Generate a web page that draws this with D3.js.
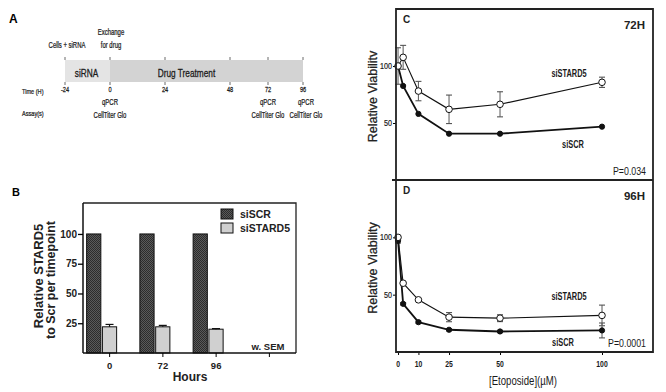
<!DOCTYPE html>
<html><head><meta charset="utf-8">
<script src="https://cdn.jsdelivr.net/npm/d3@7"></script>
<style>body{margin:0;background:#fff}svg{display:block}</style>
</head><body>
<svg id="chart" width="666" height="392"></svg>
<script>
// ---------- Panel A: timeline ----------
const timeTicks = [-24, 0, 24, 48, 72, 96];
const phaseNames = ["siRNA", "Drug Treatment"];
const phaseStart = [-24, 0];
const phaseEnd = [0, 96];
const eventTimes = [-24, 0];
const eventLabels = [["Cells + siRNA"], ["Exchange", "for drug"]];
const assayTimes = [0, 72, 96];
const assayLabels = ["qPCR", "CellTiter Glo"];

// ---------- Panel B: knockdown bars ----------
const hourCats = ["0", "72", "96", ""];
const knockSeries = ["siSCR", "siSTARD5"];
const knockSCR = [100, 100, 100];
const knockSTARD5 = [22, 22, 20];
const knockSTARD5Err = [2, 1.2, 0.5];
const knockYTicks = [25, 50, 75, 100];

// ---------- Panels C/D: viability ----------
const doses = [0, 2.5, 10, 25, 50, 100];
const doseTicks = [0, 10, 25, 50, 100];
const viabTicks = [50, 100];
const c_siSTARD5 = [100, 107.6, 78, 62, 66.4, 85.7];
const c_siSTARD5Err = [16, 10.5, 8.5, 12.5, 11, 4.5];
const c_siSCR = [100, 82.5, 58, 40.6, 40.6, 46.8];
const c_siSCRErr = [0, 0, 0, 0, 0, 0];
const d_siSTARD5 = [100, 60, 45.5, 30.4, 29.5, 31.9];
const d_siSTARD5Err = [1, 1, 1, 4, 3, 9];
const d_siSCR = [97, 42, 26, 19.4, 17.9, 18.8];
const d_siSCRErr = [2, 1, 1, 1, 1, 6.5];

const svg = d3.select("#chart");
const ARIAL = "'Liberation Sans',Arial,sans-serif";

// condensed text helper (horizontal squeeze of Liberation Sans)
function ntext(g, x, y, str, size, opts = {}) {
  const sx = opts.sx || 0.72;
  const t = g.append("text")
    .attr("transform", `translate(${x},${y}) scale(${sx},1)`)
    .attr("text-anchor", opts.anchor || "middle")
    .attr("font-family", ARIAL)
    .attr("font-weight", opts.weight || "normal")
    .attr("font-size", size)
    .attr("fill", opts.fill || "#1a1a1a")
    .text(str);
  if (opts.heavy) t.attr("stroke", opts.fill || "#1a1a1a").attr("stroke-width", opts.heavy);
  return t;
}

// ================= Panel A =================
const gA = svg.append("g");
gA.append("text").attr("x", 9).attr("y", 23).text("A")
  .attr("font-family", ARIAL).attr("font-weight", "bold").attr("font-size", 12);
const tx = d3.scaleLinear().domain(timeTicks).range([65, 110, 165, 230, 268, 303]);
const phaseFill = ["#e4e4e4", "#d3d3d3"];
phaseNames.forEach((n, i) => {
  gA.append("rect").attr("x", tx(phaseStart[i])).attr("y", 60)
    .attr("width", tx(phaseEnd[i]) - tx(phaseStart[i])).attr("height", 22)
    .attr("fill", phaseFill[i]);
  ntext(gA, (tx(phaseStart[i]) + tx(phaseEnd[i])) / 2 + (i === 0 ? -1 : -20), 77, n, 11.5, {sx: 0.72, heavy: 0.3});
});
timeTicks.forEach(t => {
  gA.append("line").attr("x1", tx(t)).attr("x2", tx(t)).attr("y1", 57).attr("y2", 60)
    .attr("stroke", "#444").attr("stroke-width", 0.8);
  gA.append("line").attr("x1", tx(t)).attr("x2", tx(t)).attr("y1", 82).attr("y2", 85)
    .attr("stroke", "#444").attr("stroke-width", 0.8);
  ntext(gA, tx(t), 92, t, 7.5, {sx: 0.75, heavy: 0.25});
});
eventTimes.forEach((t, i) => {
  const lines = eventLabels[i];
  lines.forEach((l, j) => {
    ntext(gA, tx(t) + (i === 0 ? 2 : 1), 48 - (lines.length - 1 - j) * 13, l, 8.5, {sx: 0.7, heavy: 0.25});
  });
});
ntext(gA, 22, 94, "Time (H)", 8, {anchor: "start", sx: 0.7, heavy: 0.25});
ntext(gA, 22, 116, "Assay(s)", 8, {anchor: "start", sx: 0.7, heavy: 0.25});
assayTimes.forEach((t, i) => {
  assayLabels.forEach((l, j) => {
    ntext(gA, tx(t) + (i === 2 ? 3 : 0), 105 + j * 13, l, 8.5, {sx: 0.7, heavy: 0.25});
  });
});

// ================= Panel B =================
const defs = svg.append("defs");
const pat = defs.append("pattern").attr("id", "stip").attr("width", 2).attr("height", 2)
  .attr("patternUnits", "userSpaceOnUse");
pat.append("rect").attr("width", 2).attr("height", 2).attr("fill", "#5a5a5a");
pat.append("rect").attr("width", 1).attr("height", 1).attr("fill", "#2c2c2c");
pat.append("rect").attr("x", 1).attr("y", 1).attr("width", 1).attr("height", 1).attr("fill", "#2c2c2c");

const gB = svg.append("g");
gB.append("text").attr("x", 12).attr("y", 196).text("B")
  .attr("font-family", ARIAL).attr("font-weight", "bold").attr("font-size", 11);
const bx = d3.scaleBand().domain(hourCats).range([83, 296]);
const bx1 = d3.scaleBand().domain(knockSeries).range([0, 30]).paddingInner(0.1);
const by = d3.scaleLinear().domain([0, 126]).range([353, 203]);
const center = c => bx(c) + bx.bandwidth() / 2;
const seriesVals = [knockSCR, knockSTARD5];
const seriesFill = ["url(#stip)", "#d0d0d0"];
knockSeries.forEach((s, si) => {
  seriesVals[si].forEach((v, i) => {
    const c = hourCats[i];
    gB.append("rect").attr("x", center(c) - 23 + bx1(s)).attr("y", by(v))
      .attr("width", bx1.bandwidth()).attr("height", by(0) - by(v))
      .attr("fill", seriesFill[si]).attr("stroke", "#111").attr("stroke-width", 1);
  });
});
knockSTARD5.forEach((v, i) => {
  const c = hourCats[i];
  const cx = center(c) - 23 + bx1("siSTARD5") + bx1.bandwidth() / 2;
  const e = knockSTARD5Err[i];
  gB.append("line").attr("x1", cx).attr("x2", cx).attr("y1", by(v + e)).attr("y2", by(v))
    .attr("stroke", "#111").attr("stroke-width", 1.2);
  gB.append("line").attr("x1", cx - 4).attr("x2", cx + 4).attr("y1", by(v + e)).attr("y2", by(v + e))
    .attr("stroke", "#111").attr("stroke-width", 1.2);
});
gB.append("path").attr("d", `M83,203H296V353`).attr("fill", "none").attr("stroke", "#222").attr("stroke-width", 1.3);
const yAxB = gB.append("g").attr("transform", "translate(83,0)")
  .call(d3.axisLeft(by).tickValues(knockYTicks).tickSize(5).tickPadding(1));
yAxB.select(".domain").attr("d", "M0,203V353").attr("stroke", "#111").attr("stroke-width", 1.5);
yAxB.selectAll("text").attr("font-family", ARIAL).attr("font-weight", "bold").attr("font-size", 10).attr("fill", "#222");
yAxB.selectAll(".tick line").attr("stroke-width", 1.3);
const xAxB = gB.append("g").attr("transform", "translate(0,353)")
  .call(d3.axisBottom(bx).tickSize(4).tickPadding(5));
xAxB.select(".domain").attr("d", "M83,0H296").attr("stroke", "#111").attr("stroke-width", 1.5);
xAxB.selectAll("text").attr("font-family", ARIAL).attr("font-weight", "bold").attr("font-size", 9.5).attr("fill", "#222");
gB.append("text").attr("x", 190).attr("y", 381).attr("text-anchor", "middle").text("Hours")
  .attr("font-family", ARIAL).attr("font-weight", "bold").attr("font-size", 12).attr("fill", "#222");
gB.append("text").attr("transform", "translate(43,276) rotate(-90)").attr("text-anchor", "middle")
  .text("Relative STARD5").attr("font-family", ARIAL).attr("font-weight", "bold").attr("font-size", 13).attr("fill", "#222");
gB.append("text").attr("transform", "translate(55,280) rotate(-90)").attr("text-anchor", "middle")
  .text("to Scr per timepoint").attr("font-family", ARIAL).attr("font-weight", "bold").attr("font-size", 12.5).attr("fill", "#222");
gB.append("text").attr("x", 268).attr("y", 350).attr("text-anchor", "middle").text("w. SEM")
  .attr("font-family", ARIAL).attr("font-weight", "bold").attr("font-size", 9.5).attr("fill", "#222");
knockSeries.forEach((s, si) => {
  gB.append("rect").attr("x", 221).attr("y", 209 + si * 14).attr("width", 12).attr("height", 10)
    .attr("fill", seriesFill[si]).attr("stroke", "#111").attr("stroke-width", 1);
  gB.append("text").attr("x", 240).attr("y", 218 + si * 14).text(s)
    .attr("font-family", ARIAL).attr("font-weight", "bold").attr("font-size", 10.5).attr("fill", "#222");
});

// ================= Panels C & D =================
const vx = d3.scaleLinear().domain([-1, 125]).range([396, 653]);
function viability(g, yTop, yBot, title, letter, yLabel, sSTARD, eSTARD, sSCR, eSCR, labSTARDy, labSCRy, labSCRx, pText, showX) {
  const vy = d3.scaleLinear().domain([0, 150]).range([yBot, yTop]);
  const yAx = g.append("g").attr("transform", "translate(396,0)")
    .call(d3.axisLeft(vy).tickValues(viabTicks).tickSize(3).tickPadding(1));
  yAx.select(".domain").remove();
  yAx.selectAll("text").remove();
  viabTicks.forEach(t => ntext(g, 392, vy(t) + 3, t, 9, {anchor: "end", sx: 0.8, heavy: 0.2}));
  g.append("text").attr("transform", `translate(377,${(yTop + yBot) / 2 + 2}) rotate(-90)`).attr("text-anchor", "middle")
    .text(yLabel).attr("font-family", ARIAL).attr("font-size", 12.5).attr("fill", "#222")
    .attr("stroke", "#222").attr("stroke-width", 0.25);
  g.append("text").attr("x", 403).attr("y", yTop + 14).text(letter)
    .attr("font-family", ARIAL).attr("font-weight", "bold").attr("font-size", 10).attr("fill", "#222");
  g.append("text").attr("x", 645).attr("y", yTop + 20).attr("text-anchor", "end").text(title)
    .attr("font-family", ARIAL).attr("font-weight", "bold").attr("font-size", 11.5).attr("fill", "#222");
  ntext(g, 646, yBot - 5, pText, 11, {anchor: "end", sx: 0.8});
  const line = d3.line().x((d, i) => vx(doses[i])).y(d => vy(d));
  const series = [
    {v: sSTARD, e: eSTARD, w: 1.1, open: true},
    {v: sSCR, e: eSCR, w: 1.8, open: false}
  ];
  series.forEach(s => {
    s.v.forEach((v, i) => {
      if (s.e[i] <= 0) return;
      const cx = vx(doses[i]);
      g.append("line").attr("x1", cx).attr("x2", cx).attr("y1", vy(v + s.e[i])).attr("y2", vy(v - s.e[i]))
        .attr("stroke", "#666").attr("stroke-width", 1.1);
      [v + s.e[i], v - s.e[i]].forEach(yy => g.append("line").attr("x1", cx - 3).attr("x2", cx + 3)
        .attr("y1", vy(yy)).attr("y2", vy(yy)).attr("stroke", "#555").attr("stroke-width", 1.1));
    });
  });
  series.slice().reverse().forEach(s => {
    g.append("path").attr("d", line(s.v)).attr("fill", "none").attr("stroke", "#111").attr("stroke-width", s.w);
  });
  series.slice().reverse().forEach(s => {
    g.selectAll(null).data(s.v).enter().append("circle")
      .attr("cx", (d, i) => vx(doses[i])).attr("cy", d => vy(d))
      .attr("r", s.open ? 3.3 : 2.6)
      .attr("fill", s.open ? "#fff" : "#111").attr("stroke", "#111").attr("stroke-width", 1);
  });
  ntext(g, 569, labSTARDy, "siSTARD5", 10, {weight: "bold", sx: 0.74});
  ntext(g, labSCRx, labSCRy, "siSCR", 10, {weight: "bold", sx: 0.74});
  if (showX) {
    const xAx = g.append("g").attr("transform", `translate(0,${yBot})`)
      .call(d3.axisBottom(vx).tickValues(doseTicks).tickSize(3).tickPadding(3));
    xAx.select(".domain").remove();
    xAx.selectAll("text").remove();
    doseTicks.forEach(t => ntext(g, vx(t), yBot + 15, t, 9.5, {weight: "bold", sx: 0.72}));
  }
}
const gC = svg.append("g");
viability(gC, 9, 180, "72H", "C", "Relative Viabilitv", c_siSTARD5, c_siSTARD5Err, c_siSCR, c_siSCRErr, 77, 148, 573, "P=0.034", false);
const gD = svg.append("g");
viability(gD, 180, 352, "96H", "D", "Relative Viability", d_siSTARD5, d_siSTARD5Err, d_siSCR, d_siSCRErr, 300, 346, 563, "P=0.0001", true);
const gF = svg.append("g").attr("fill", "none").attr("stroke", "#222").attr("stroke-width", 1.8);
gF.append("path").attr("d", "M396,9H653V352H396Z");
gF.append("path").attr("d", "M392,180H653");
ntext(svg, 523, 385, "[Etoposide](µM)", 12, {sx: 0.8});
</script>
</body></html>
